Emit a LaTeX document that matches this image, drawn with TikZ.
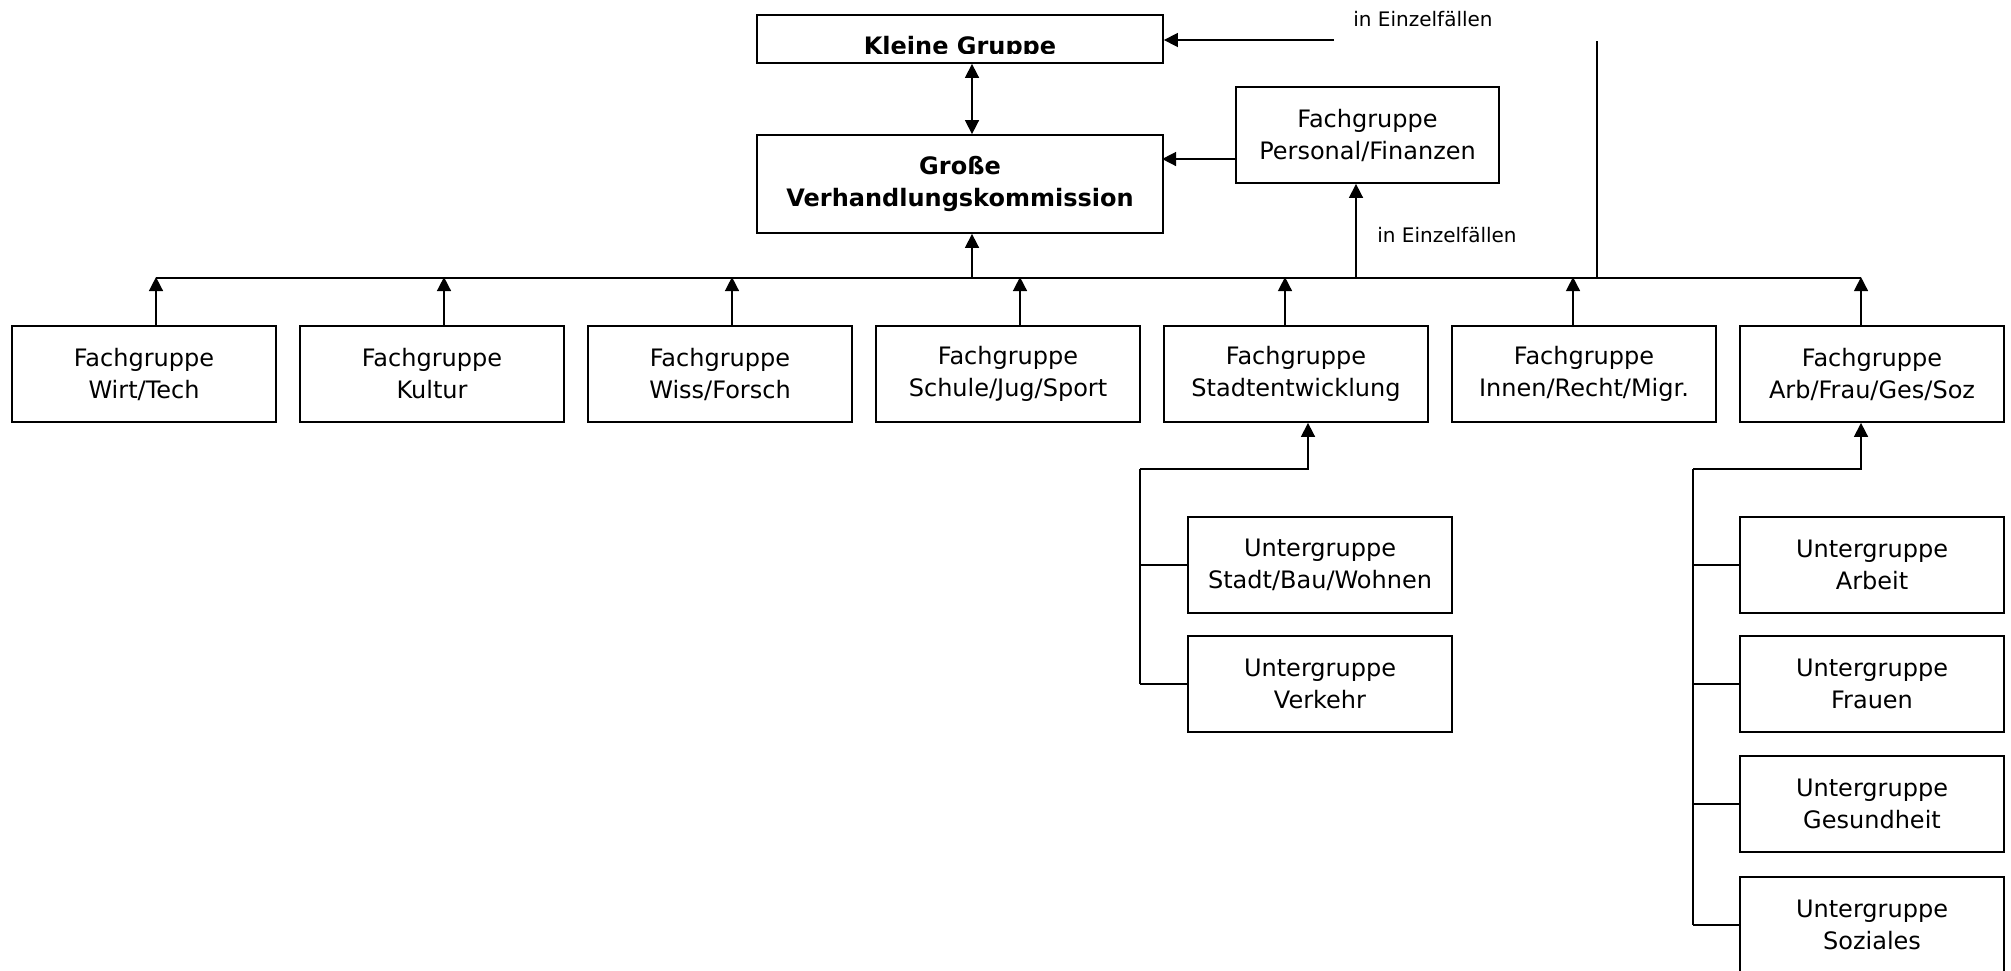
\documentclass[tikz,border=0pt]{standalone}
\usepackage{fontspec}
\setmainfont{DejaVu Sans}
\usetikzlibrary{arrows.meta}

\newcommand{\boxfont}{\fontsize{12pt}{16pt}\selectfont}
\newcommand{\notefont}{\fontsize{10pt}{12pt}\selectfont}

\begin{document}
\begin{tikzpicture}[x=0.5pt,y=-0.5pt,
    box/.style={draw,line width=0.9pt,minimum width=132pt,minimum height=48pt,inner sep=0pt,align=center,font=\boxfont},
    arr/.style={line width=0.8pt,-{Triangle[length=7pt,width=7pt]}},
    dblarr/.style={line width=0.8pt,{Triangle[length=7pt,width=7pt]}-{Triangle[length=7pt,width=7pt]}},
    line/.style={line width=0.8pt},
    note/.style={font=\notefont,inner sep=0pt}]
    \useasboundingbox (0,0) rectangle (2011,970);

    % Kommissionen
    \node[box,minimum width=203pt,minimum height=24pt] (kg) at (960,39) {};
    \begin{scope}
        \clip ([xshift=-1pt]kg.north west) rectangle ([yshift=5pt]kg.south east);
        \node[font=\boxfont\bfseries,anchor=base,inner sep=0pt] (kgtext) at (960,54) {Kleine Gruppe};
    \end{scope}
    \node[box,font=\boxfont\bfseries,minimum width=203pt,minimum height=49pt] (gvk) at (960,184) {Große\\Verhandlungskommission};
    \node[box,minimum width=131.5pt] (pf) at (1367.5,135) {Fachgruppe\\Personal/Finanzen};

    % Fachgruppen
    \node[box] (f1) at (144,374)  {Fachgruppe\\Wirt/Tech};
    \node[box] (f2) at (432,374)  {Fachgruppe\\Kultur};
    \node[box] (f3) at (720,374)  {Fachgruppe\\Wiss/Forsch};
    \node[box] (f4) at (1008,374) {Fachgruppe\\Schule/Jug/Sport};
    \node[box] (f5) at (1296,374) {Fachgruppe\\Stadtentwicklung};
    \node[box] (f6) at (1584,374) {Fachgruppe\\Innen/Recht/Migr.};
    \node[box] (f7) at (1872,374) {Fachgruppe\\Arb/Frau/Ges/Soz};

    % Untergruppen
    \node[box] (u1) at (1320,565) {Untergruppe\\Stadt/Bau/Wohnen};
    \node[box] (u2) at (1320,684) {Untergruppe\\Verkehr};
    \node[box] (u3) at (1872,565) {Untergruppe\\Arbeit};
    \node[box] (u4) at (1872,684) {Untergruppe\\Frauen};
    \node[box] (u5) at (1872,804) {Untergruppe\\Gesundheit};
    \node[box] (u6) at (1872,925) {Untergruppe\\Soziales};

    % Sammelleitung
    \coordinate (busL) at (156,278);
    \coordinate (busR) at (1861,278);
    \draw[line] (busL) -- (busR);
    \foreach \n/\dx in {1/6,2/6,3/6,4/6,5/-5.5,6/-5.5,7/-5.5}
        \draw[arr] ([xshift=\dx pt]f\n.north) -- ++(0,-48);

    \coordinate (b0) at (972,278);
    \draw[arr] (b0) -- (b0 |- gvk.south);
    \draw[dblarr] ([xshift=6pt]kg.south) -- ([xshift=6pt]gvk.north);
    \coordinate (b1) at (1356,278);
    \draw[arr] (b1) -- (b1 |- pf.south);
    \draw[arr] ([yshift=-12pt]pf.west) -- ++(-73,0);
    \node[note] (n2) at (1447,235) {in Einzelfällen};

    % in Einzelfaellen oben
    \coordinate (e1) at (1334,40);
    \draw[arr] (e1) -- (e1 -| kg.east);
    \node[note] (n1) at (1423,19) {in Einzelfällen};
    \coordinate (v1) at (1597,41);
    \draw[line] (v1) -- (v1 |- busL);

    % Untergruppen anbinden
    \coordinate (s1) at (1140,469);
    \draw[arr] (s1) -| ([xshift=6pt]f5.south);
    \draw[line] (s1) -- (s1 |- u2.west);
    \foreach \u in {u1,u2}
        \draw[line] (s1 |- \u.west) -- (\u.west);

    \coordinate (s2) at (1693,469);
    \draw[arr] (s2) -| ([xshift=-5.5pt]f7.south);
    \draw[line] (s2) -- (s2 |- u6.west);
    \foreach \u in {u3,u4,u5,u6}
        \draw[line] (s2 |- \u.west) -- (\u.west);
\end{tikzpicture}
\end{document}
